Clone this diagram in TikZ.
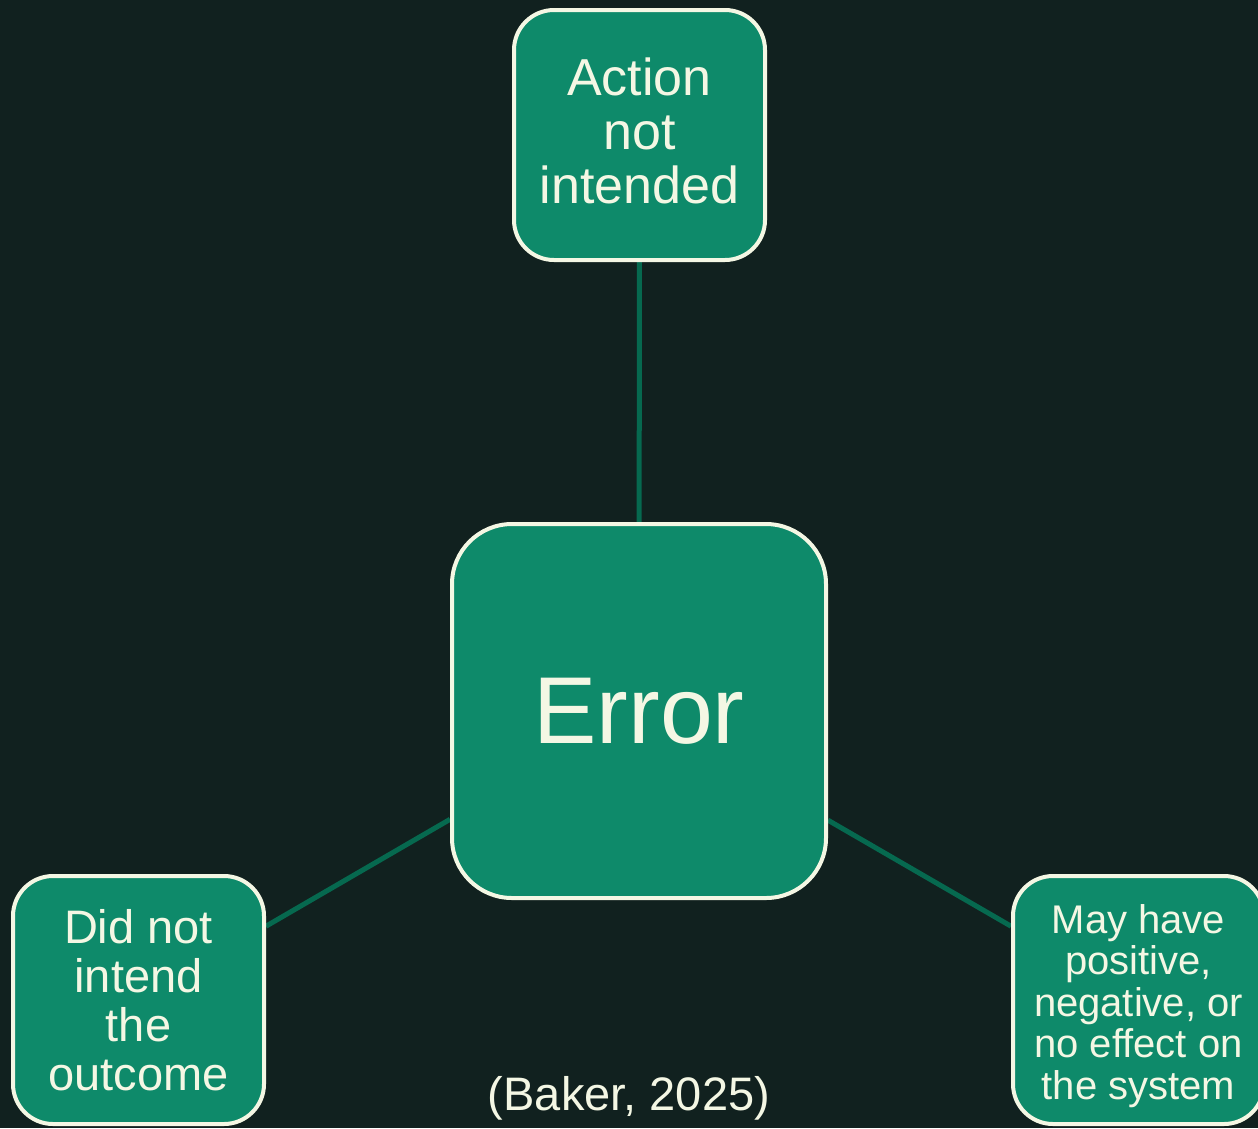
\documentclass[tikz,border=0pt]{standalone}
\usepackage{fontspec}
\setmainfont{Liberation Sans}
\usetikzlibrary{backgrounds}

\definecolor{bgdark}{HTML}{11211F}
\definecolor{boxfill}{HTML}{0E8A6A}
\definecolor{cream}{HTML}{F4F7E4}
\definecolor{linkgreen}{HTML}{06694F}

\tikzset{
  box/.style={draw=cream, fill=boxfill, line width=4pt, text=cream,
    align=center, inner sep=0pt, rounded corners=40pt,
    minimum width=251pt, minimum height=250pt},
  hub/.style={box, rounded corners=60pt, minimum width=374pt, minimum height=374pt,
    font=\fontsize{95}{98}\selectfont},
  caption/.style={text=cream, align=center, inner sep=0pt},
  link/.style={draw=linkgreen, line width=5pt}
}

\begin{document}
\begin{tikzpicture}[x=1pt, y=-1pt]
  \useasboundingbox (0,0) rectangle (1258,1128);

  % boxes
  \node[hub] (err) at (639,711) {Error};
  \node[box] (act) at (639.5,135) {};
  \node[box, minimum height=248pt] (dnt) at (138.5,1000) {};
  \node[box, minimum height=248pt] (eff) at (1138.5,1000) {};

  % box texts
  \node[caption, font=\fontsize{52}{54}\selectfont, yshift=4pt] (acttext) at (act.center)
    {Action\\not\\intended};
  \node[caption, font=\fontsize{47}{49}\selectfont] (dnttext) at (dnt.center)
    {Did not\\intend\\the\\outcome};
  \node[caption, font=\fontsize{40}{41.4}\selectfont, yshift=-6pt] (efftext) at (eff.center)
    {May have\\positive,\\negative, or\\no effect on\\the system};

  \node[text=cream, font=\fontsize{47}{49}\selectfont, anchor=base] (cite) at (629,1110)
    {(Baker, 2025)};

  \begin{scope}[on background layer]
    \fill[bgdark] (0,0) rectangle (1258,1128);
    \draw[link] (act) -- (err);
    \draw[link] (dnt) -- (err);
    \draw[link] (eff) -- (err);
  \end{scope}
\end{tikzpicture}
\end{document}
